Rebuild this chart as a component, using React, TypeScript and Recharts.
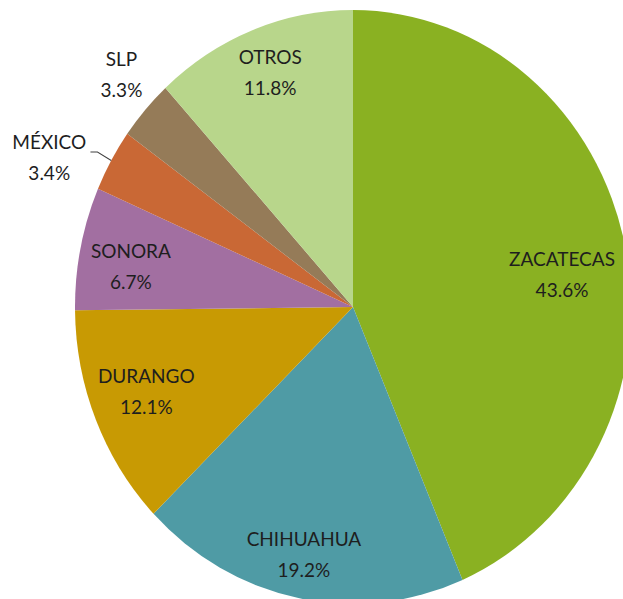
import { PieChart, Pie, Cell } from 'recharts';

const states = ['ZACATECAS', 'CHIHUAHUA', 'DURANGO', 'SONORA', 'MÉXICO', 'SLP', 'OTROS'];
const shares = [43.6, 19.2, 12.1, 6.7, 3.4, 3.3, 11.8];
const sliceColors = ['#8AB122', '#4F9BA5', '#C89A03', '#A26FA1', '#C96835', '#957B58', '#B8D68B'];
// label spot per slice: [radius factor, angle nudge in degrees]
const labelSpots: [number, number][] = [
  [0.757, 4.9], [0.875, 0.3], [0.804, 0], [0.807, -3.3], [1.194, -5.8], [1.129, 0.84], [0.823, 0],
];

const data = states.map((name, i) => ({ name, value: shares[i] }));

// the original pie is a little taller than wide
const STRETCH = 1.068;
const CX = 353;
const CY = 307;
const RAD = Math.PI / 180;

const renderLabel = (props: any) => {
  const { cx, cy, midAngle, outerRadius, index } = props;
  const [rf, nudge] = labelSpots[index];
  const a = (midAngle - nudge) * RAD;
  const r = outerRadius * rf;
  const x = cx + r * Math.cos(-a);
  const y = cy + r * Math.sin(-a);
  return (
    <text
      key={`lbl-${index}`}
      x={x}
      y={y}
      textAnchor="middle"
      fill="#1E1E1E"
      fontSize={19}
      fontFamily="Lato, 'Noto Sans', sans-serif"
      transform={`translate(${x} ${y}) scale(1 ${1 / STRETCH}) translate(${-x} ${-y})`}
    >
      <tspan x={x} y={y - 15}>{states[index]}</tspan>
      <tspan x={x} y={y + 16}>{shares[index].toFixed(1)}%</tspan>
    </text>
  );
};

const renderLine = (props: any) => {
  const { cx, cy, midAngle, outerRadius, index } = props;
  if (index !== 4) return <g key={`ln-${index}`} />;
  const a = -midAngle * RAD;
  const x1 = cx + outerRadius * Math.cos(a);
  const y1 = cy + outerRadius * Math.sin(a);
  const x2 = cx + outerRadius * 1.057 * Math.cos(a);
  const y2 = cy + outerRadius * 1.057 * Math.sin(a);
  return (
    <path
      key={`ln-${index}`}
      d={`M${x1},${y1}L${x2},${y2}L${x2 - 7},${y2}`}
      stroke="#404040"
      strokeWidth={1}
      fill="none"
    />
  );
};

export default function App() {
  return (
    <div style={{ position: 'absolute', left: 0, top: 0, width: 623, height: 599, overflow: 'hidden', background: '#fff' }}>
      <div style={{ transform: `scaleY(${STRETCH})`, transformOrigin: `${CX}px ${CY}px` }}>
        <PieChart width={623} height={599} margin={{ top: 0, right: 0, bottom: 0, left: 0 }}>
          <Pie
            data={data}
            dataKey="value"
            nameKey="name"
            cx={CX}
            cy={CY}
            outerRadius={278}
            startAngle={90}
            endAngle={-270}
            stroke="none"
            label={renderLabel}
            labelLine={renderLine}
            isAnimationActive={false}
          >
            {data.map((_, i) => (
              <Cell key={`cell-${i}`} fill={sliceColors[i]} />
            ))}
          </Pie>
        </PieChart>
      </div>
    </div>
  );
}
